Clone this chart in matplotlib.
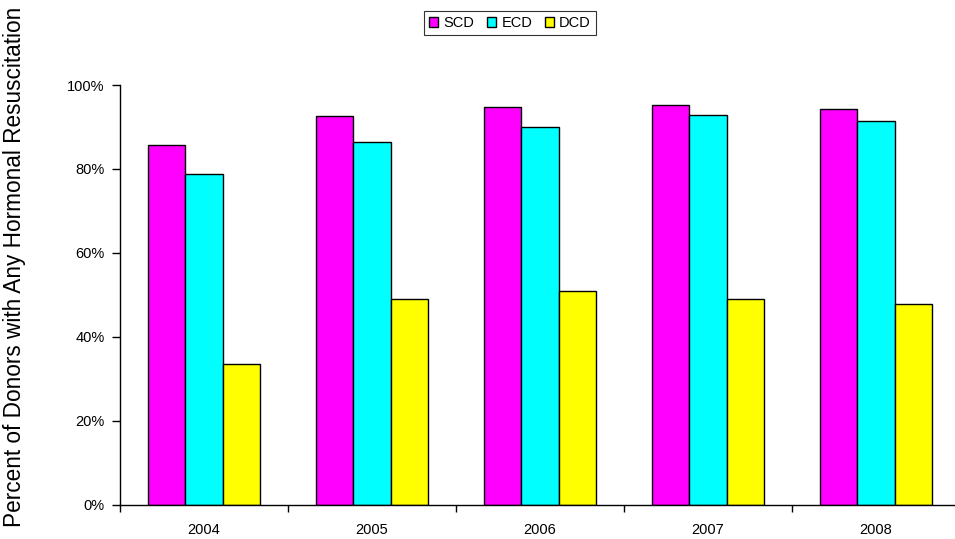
import matplotlib
matplotlib.use("Agg")
import matplotlib.pyplot as plt
import numpy as np
from matplotlib.ticker import FuncFormatter

plt.rcParams['font.family'] = ['Liberation Sans', 'DejaVu Sans']

years = ['2004', '2005', '2006', '2007', '2008']
scd = [85.6, 92.6, 94.7, 95.3, 94.3]
ecd = [78.7, 86.5, 89.9, 92.9, 91.4]
dcd = [33.5, 48.9, 50.9, 48.9, 47.7]
series_names = ['SCD', 'ECD', 'DCD']
series_colors = ['#FF00FF', '#00FFFF', '#FFFF00']

fig = plt.figure(figsize=(9.55, 5.39), dpi=100)
ax = fig.add_axes([0.1257, 0.064, 0.8796, 0.7783])

x = np.arange(len(years))
w = 2 / 9
for i, (vals, name, col) in enumerate(zip([scd, ecd, dcd], series_names, series_colors)):
    ax.bar(x + (i - 1) * w, vals, width=w, color=col, edgecolor='black',
           linewidth=1.0, label=name)

ax.set_xlim(-0.5, len(years) - 0.5)
ax.set_ylim(0, 100)
ax.set_yticks([0, 20, 40, 60, 80, 100])
ax.yaxis.set_major_formatter(FuncFormatter(lambda v, p: f"{int(v)}%"))
ax.set_xticks(x)
ax.set_xticklabels(years)
ax.set_xticks(np.arange(-0.5, len(years)), minor=True)
ax.tick_params(axis='x', which='major', length=0, pad=13, labelsize=10.5)
ax.tick_params(axis='x', which='minor', length=5, width=1, direction='out')
ax.tick_params(axis='y', length=6, width=1, direction='out', labelsize=10.5, pad=5)

for s in ['top', 'right']:
    ax.spines[s].set_visible(False)
for s in ['left', 'bottom']:
    ax.spines[s].set_linewidth(1.0)

fig.text(0.0147, 0.505, 'Percent of Donors with Any Hormonal Resuscitation',
         rotation=90, ha='center', va='center', fontsize=16.3)

leg = fig.legend(loc='center', bbox_to_anchor=(0.534, 0.957), ncol=3,
                 fontsize=10.5, frameon=True, fancybox=False, edgecolor='black',
                 handlelength=0.65, handleheight=0.65, handletextpad=0.35,
                 columnspacing=0.85, borderpad=0.33, borderaxespad=0)
leg.get_frame().set_linewidth(0.8)

fig.savefig('out.png', dpi=100)
